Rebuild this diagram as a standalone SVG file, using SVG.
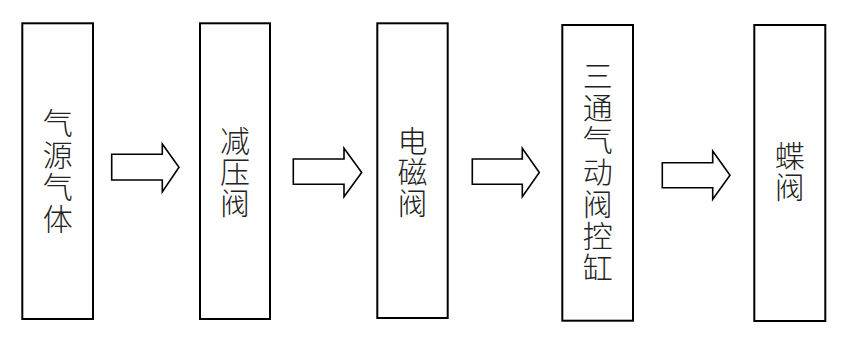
<svg xmlns="http://www.w3.org/2000/svg" width="849" height="342" viewBox="0 0 849 342">
<style>
.box{fill:#fff;stroke:#000;stroke-width:2}
.arr{fill:#fff;stroke:#000;stroke-width:1.6;stroke-linejoin:miter}
.t{font-family:"Noto Sans CJK SC","Noto Sans CJK JP",sans-serif;font-size:30px;font-weight:300;fill:#222;text-anchor:middle;writing-mode:vertical-rl;glyph-orientation-vertical:0}
.s2{letter-spacing:2px}
.s1{letter-spacing:1px}
</style>
<rect width="849" height="342" fill="#fff"/>
<g id="connectors">
<path class="arr" d="M111.7,154.3 H162.3 V144 L179,167.3 L162.3,192 V180 H111.7 Z"/>
<path class="arr" d="M293.3,159 H344 V148.3 L361.7,172.5 L344,196.7 V184.3 H293.3 Z"/>
<path class="arr" d="M472.3,159 H522.3 V148.3 L539.3,172.5 L522.3,196.7 V184.3 H472.3 Z"/>
<path class="arr" d="M662.3,162.7 H712.7 V151 L730,175.2 L712.7,199.3 V187.7 H662.3 Z"/>
</g>
<g id="n1">
<rect class="box" x="22.3" y="23.3" width="70.7" height="295.7"/>
<text class="t s2" x="57.7" y="172">气源气体</text>
</g>
<g id="n2">
<rect class="box" x="200" y="23.3" width="70" height="295.7"/>
<text class="t s1" x="235" y="172">减压阀</text>
</g>
<g id="n3">
<rect class="box" x="377.3" y="23.3" width="70.4" height="294.7"/>
<text class="t s1" x="412.5" y="172.5">电磁阀</text>
</g>
<g id="n4">
<rect class="box" x="562.3" y="25" width="70.7" height="295.7"/>
<text class="t s2" x="597.7" y="172.5">三通气动阀控缸</text>
</g>
<g id="n5">
<rect class="box" x="754.3" y="25" width="71" height="296"/>
<text class="t s1" x="789.8" y="171.5">蝶阀</text>
</g>
</svg>
